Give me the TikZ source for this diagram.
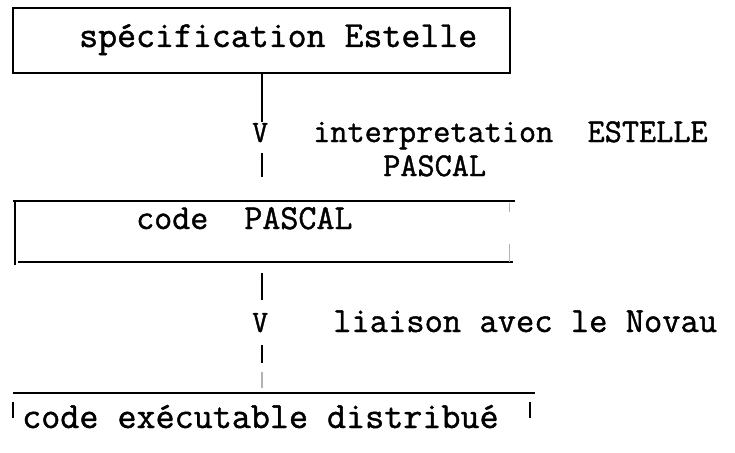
\documentclass[tikz,border=0pt]{standalone}
\usepackage{fontspec}
% typewriter face, slightly emboldened
\newfontfamily\typew{Latin Modern Mono}[FakeBold=1.2]
\begin{document}
\begin{tikzpicture}[x=1pt,y=-1pt,
  txt/.style={inner sep=0pt, anchor=base west},
  tt/.style={font=\typew\fontsize{#1}{#1}\selectfont},
  boxline/.style={line width=2.6pt},
  thinbox/.style={line width=1.8pt},
  link/.style={line width=1.6pt},
  faint/.style={line width=0.8pt, black!30}]
\useasboundingbox (0,0) rectangle (735,452);

% first box: Estelle specification
\node[draw, thinbox, inner sep=0pt, minimum width=497pt, minimum height=65pt] (b1) at (261.5,40.5) {};
\node[txt, tt=36.8] (t1) at (79,47) {spécification Estelle};

% first step, typed as bars and a V
\node[txt, tt=31] (v1) at (252,142) {V};
\coordinate (e1) at (262,177);
\draw[link] (b1.south -| 262,0) -- (262,122);
\draw[link] (262,153) -- (e1);
\node[txt, tt=33.3] (l1a) at (313,142) {interpretation\ \ ESTELLE};
\node[txt, tt=33.3] (l1b) at (383,176) {PASCAL};

% second box: PASCAL code
\coordinate (b2tl) at (13,201);
\coordinate (b2tr) at (515,201);
\coordinate (b2bl) at (18,262);
\coordinate (b2br) at (513,262);
\draw[boxline] (b2tl) -- (b2tr);
\draw[boxline] (b2bl) -- (b2br);
\draw[boxline] (15,201) -- (15,265);
\draw[faint] (509,203) -- (509,212);
\draw[faint] (509,244) -- (509,262);
\node[txt, tt=35] (t2) at (136,229) {code\ \ PASCAL};

% second step
\node[txt, tt=31] (v2) at (252,332) {V};
\draw[link] (262,273) -- (262,300);
\draw[link] (262,345) -- (262,363);
\coordinate (e2) at (262,388);
\draw[faint, line width=1.2pt] (262,372) -- (e2);
\node[txt, tt=35.5] (l2) at (333,332) {liaison avec le Novau};

% third box: distributed executable
\draw[boxline] (13,393) -- (535,393);
\draw[link] (13,402) -- (13,418);
\draw[link] (530,402) -- (530,418);
\node[txt, tt=37] (t3) at (22,428) {code exécutable distribué};
\end{tikzpicture}
\end{document}
